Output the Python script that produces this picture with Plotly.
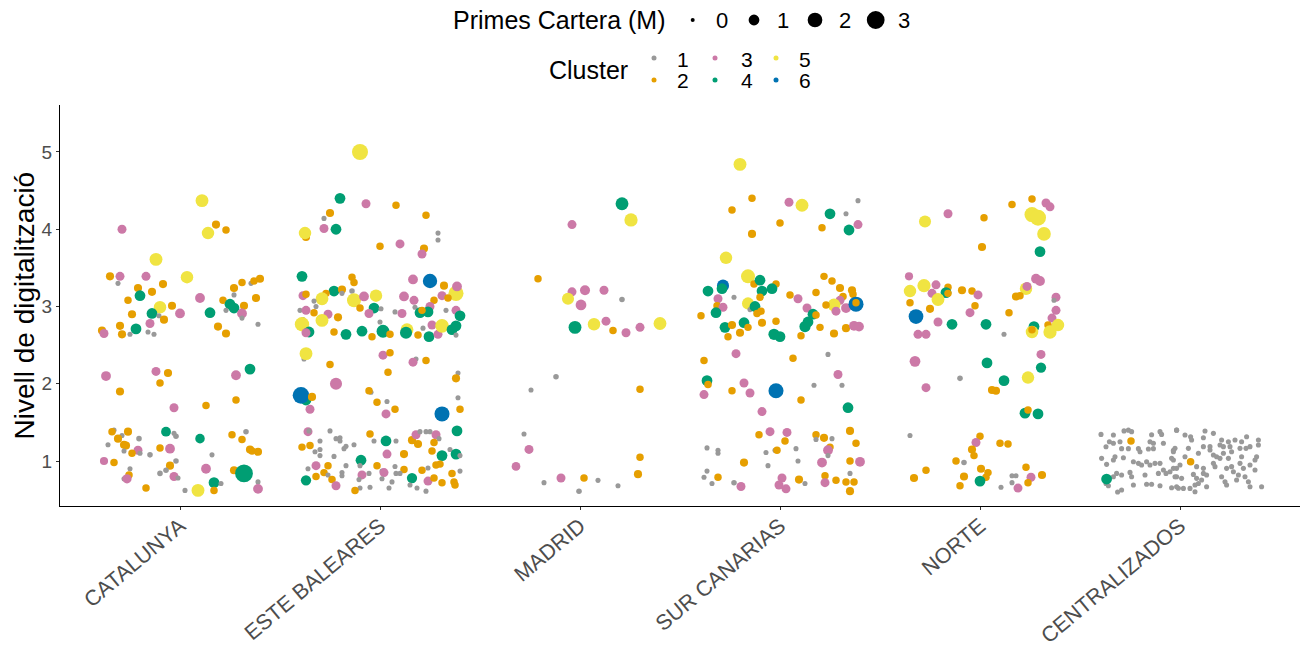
import plotly.graph_objects as go

# ---------------------------------------------------------------------------
# Data: one list per territory, each row is
# (horizontal jitter, digitalisation level, premiums in M, cluster)
# ---------------------------------------------------------------------------
REGIONS = ["CATALUNYA", "ESTE BALEARES", "MADRID", "SUR CANARIAS", "NORTE", "CENTRALIZADOS"]
CLUSTERS = [1, 2, 3, 4, 5, 6]
CLUSTER_COLORS = ["#999999", "#E69F00", "#CC79A7", "#009E73", "#F0E442", "#0072B2"]
SIZE_BREAKS = [0, 1, 2, 3]
Y_TICKS = [1, 2, 3, 4, 5]

CATALUNYA = [
    (0.11, 4.37, 1.5, 5), (-0.29, 4.00, 0.65, 3), (0.18, 4.06, 0.5, 2), (0.23, 3.99, 0.4, 2),
    (0.14, 3.95, 1.4, 5), (-0.12, 3.61, 1.5, 5), (-0.35, 3.39, 0.5, 2), (-0.30, 3.39, 0.65, 3),
    (-0.31, 3.30, 0.1, 1), (-0.17, 3.39, 0.65, 3), (0.035, 3.38, 1.4, 5), (-0.21, 3.24, 0.5, 2),
    (-0.085, 3.29, 0.5, 2), (-0.20, 3.14, 1.0, 4), (-0.14, 3.19, 0.5, 2), (-0.26, 3.08, 0.4, 2),
    (0.10, 3.11, 0.8, 3), (0.27, 3.24, 0.5, 2), (0.31, 3.31, 0.4, 2), (0.355, 3.30, 0.1, 1),
    (0.37, 3.33, 0.4, 2), (0.40, 3.36, 0.5, 2), (0.27, 3.15, 0.1, 1), (0.38, 3.11, 0.5, 2),
    (0.215, 3.08, 0.4, 2), (0.25, 3.03, 1.0, 4), (0.27, 2.98, 1.0, 4), (0.32, 3.01, 0.5, 2),
    (0.23, 2.95, 0.1, 1), (-0.10, 2.99, 1.4, 5), (-0.04, 3.01, 0.5, 2), (-0.24, 2.90, 0.5, 2),
    (-0.14, 2.91, 1.0, 4), (-0.105, 2.88, 0.1, 1), (0.0, 2.91, 0.8, 3), (0.15, 2.92, 1.0, 4),
    (0.31, 2.91, 0.8, 3), (0.31, 2.85, 0.1, 1), (-0.08, 2.83, 0.5, 2),
    (0.39, 2.77, 0.1, 1), (-0.30, 2.75, 0.5, 2), (-0.22, 2.71, 1.0, 4), (-0.15, 2.78, 0.65, 3),
    (-0.39, 2.69, 0.5, 2), (-0.38, 2.65, 0.65, 3), (-0.29, 2.64, 0.5, 2), (-0.25, 2.64, 0.1, 1),
    (-0.16, 2.67, 0.1, 1), (-0.13, 2.64, 0.1, 1), (0.19, 2.74, 0.5, 2), (0.23, 2.65, 0.5, 2),
    (0.35, 2.19, 1.0, 4), (0.28, 2.11, 0.8, 3), (-0.37, 2.10, 0.8, 3), (-0.12, 2.16, 0.65, 3),
    (-0.06, 2.14, 0.5, 2), (-0.10, 2.01, 0.4, 2), (-0.30, 1.90, 0.5, 2), (0.28, 1.79, 0.4, 2),
    (-0.03, 1.69, 0.65, 3), (0.13, 1.72, 0.4, 2),
    (-0.33, 1.40, 0.1, 1), (-0.34, 1.38, 0.4, 2), (-0.26, 1.38, 0.5, 2), (-0.29, 1.33, 0.1, 1),
    (-0.31, 1.29, 0.5, 2), (-0.205, 1.29, 0.15, 1), (-0.07, 1.38, 0.8, 4), (-0.03, 1.36, 0.1, 1),
    (-0.02, 1.32, 0.15, 1), (0.10, 1.29, 0.75, 4), (0.26, 1.34, 0.4, 2), (0.33, 1.38, 0.15, 1),
    (0.31, 1.28, 0.4, 2), (0.35, 1.15, 0.5, 2), (0.36, 1.13, 0.4, 2), (0.39, 1.12, 0.5, 2),
    (-0.36, 1.21, 0.1, 1), (-0.28, 1.21, 0.5, 2), (-0.27, 1.20, 0.5, 2), (-0.28, 1.13, 0.1, 1),
    (-0.21, 1.14, 0.65, 3), (-0.24, 1.10, 0.4, 2), (-0.20, 1.10, 0.1, 1), (-0.15, 1.08, 0.15, 1),
    (-0.10, 1.17, 0.4, 2), (-0.05, 1.16, 0.8, 3), (0.16, 1.08, 0.1, 1), (-0.38, 1.00, 0.5, 3),
    (-0.33, 0.98, 0.4, 2), (-0.02, 1.00, 0.15, 1), (-0.05, 0.94, 0.5, 2), (0.13, 0.90, 0.8, 3),
    (-0.25, 0.90, 0.1, 1), (-0.255, 0.82, 0.4, 2), (-0.28, 0.77, 0.1, 1), (-0.265, 0.77, 0.7, 3),
    (-0.10, 0.84, 0.15, 1), (-0.07, 0.88, 0.15, 1), (-0.03, 0.80, 0.65, 3), (-0.01, 0.78, 0.1, 1),
    (0.27, 0.88, 0.5, 2), (0.32, 0.84, 3.0, 4), (0.17, 0.72, 1.0, 4), (0.205, 0.71, 0.1, 1),
    (0.17, 0.62, 0.4, 2), (0.09, 0.62, 1.5, 5), (0.025, 0.62, 0.1, 1), (-0.17, 0.65, 0.4, 2),
    (0.39, 0.73, 0.1, 1), (0.39, 0.64, 0.8, 3),
]

ESTE_BALEARES = [
    (-0.10, 5.00, 2.4, 5), (-0.20, 4.40, 1.0, 4), (-0.07, 4.33, 0.65, 3), (0.08, 4.31, 0.4, 2),
    (0.23, 4.18, 0.4, 2), (-0.25, 4.21, 0.5, 2), (-0.28, 4.14, 0.1, 1), (-0.28, 4.01, 0.65, 3),
    (-0.22, 4.00, 1.0, 4), (-0.37, 3.90, 0.5, 2), (-0.375, 3.95, 1.4, 5), (0.29, 3.95, 0.1, 1),
    (0.29, 3.86, 0.1, 1), (0.00, 3.78, 0.4, 2), (0.10, 3.81, 0.65, 3), (0.22, 3.75, 0.5, 2),
    (0.21, 3.68, 0.65, 3), (-0.39, 3.39, 1.0, 4), (-0.14, 3.38, 0.4, 2), (-0.13, 3.31, 0.4, 2),
    (0.165, 3.35, 0.8, 3), (0.25, 3.33, 1.9, 6), (0.32, 3.27, 0.5, 2), (0.38, 3.17, 2.1, 5),
    (0.385, 3.26, 0.8, 3), (-0.23, 3.20, 1.0, 4), (-0.19, 3.22, 0.5, 2), (-0.14, 3.20, 0.15, 1),
    (-0.27, 3.17, 0.4, 2), (-0.29, 3.10, 1.5, 5), (-0.385, 3.14, 0.65, 3), (-0.37, 3.16, 0.4, 2),
    (-0.33, 3.07, 0.1, 1), (-0.32, 3.00, 0.1, 1), (-0.19, 3.17, 0.1, 1), (-0.13, 3.08, 1.8, 5),
    (-0.08, 3.13, 0.8, 3), (-0.02, 3.14, 1.4, 5), (0.12, 3.13, 0.8, 3), (0.17, 3.08, 0.65, 3),
    (0.27, 3.08, 0.4, 2), (0.31, 3.14, 0.65, 3), (0.34, 3.11, 0.4, 2), (0.175, 2.99, 0.1, 1),
    (0.25, 3.00, 0.65, 3), (-0.03, 2.98, 1.0, 4), (0.005, 2.97, 0.1, 1), (-0.10, 2.98, 0.4, 2),
    (-0.055, 2.91, 0.65, 3), (0.075, 2.93, 0.1, 1), (0.11, 2.91, 0.65, 3), (0.20, 2.92, 1.0, 4),
    (0.24, 2.93, 1.0, 4), (0.21, 2.95, 0.4, 2), (0.33, 2.95, 0.1, 1), (0.38, 2.95, 0.65, 3),
    (0.40, 2.88, 1.0, 4), (-0.40, 2.95, 0.1, 1), (-0.37, 2.95, 0.65, 3), (-0.33, 2.92, 0.4, 2),
    (-0.26, 2.90, 0.65, 3), (-0.21, 2.86, 0.5, 2), (-0.29, 2.82, 1.5, 5), (-0.385, 2.83, 0.1, 1),
    (-0.39, 2.77, 1.9, 5), (-0.355, 2.67, 1.0, 4), (-0.37, 2.66, 0.65, 3), (-0.23, 2.67, 0.4, 2),
    (-0.17, 2.64, 1.0, 4), (-0.09, 2.68, 1.0, 4), (0.0, 2.80, 0.1, 1), (0.015, 2.68, 1.5, 4),
    (0.05, 2.64, 0.4, 2), (-0.04, 2.61, 0.4, 2), (0.135, 2.70, 1.5, 5), (0.13, 2.66, 1.3, 4),
    (0.19, 2.63, 0.4, 2), (0.215, 2.72, 0.1, 1), (0.26, 2.76, 0.65, 3), (0.245, 2.61, 1.0, 4),
    (0.29, 2.64, 0.65, 3), (0.31, 2.75, 1.7, 5), (0.36, 2.70, 1.0, 4), (0.38, 2.75, 1.0, 4),
    (0.38, 2.63, 0.1, 1), (-0.38, 2.32, 0.1, 1), (-0.37, 2.39, 1.5, 5), (-0.25, 2.25, 0.4, 2),
    (0.015, 2.37, 0.65, 3), (0.05, 2.40, 0.4, 2), (0.18, 2.32, 0.1, 1), (0.165, 2.28, 0.65, 3),
    (0.23, 2.30, 0.4, 2), (0.04, 2.15, 0.4, 2), (-0.22, 2.00, 1.3, 3), (0.39, 2.14, 0.1, 1),
    (0.38, 2.07, 0.5, 2), (-0.37, 1.79, 1.0, 4), (-0.395, 1.85, 2.6, 6), (-0.34, 1.83, 0.5, 2),
    (-0.35, 1.67, 0.65, 3), (-0.045, 1.89, 0.1, 1), (-0.055, 1.91, 0.4, 2), (-0.015, 1.76, 0.4, 2),
    (0.035, 1.77, 0.1, 1), (0.075, 1.67, 0.4, 2), (0.03, 1.61, 0.65, 3), (0.39, 1.82, 0.1, 1),
    (0.40, 1.67, 0.4, 2), (0.31, 1.61, 2.1, 6),
    (-0.36, 1.38, 0.65, 3), (-0.355, 1.39, 0.1, 1), (-0.25, 1.39, 0.1, 1), (-0.05, 1.35, 0.4, 2),
    (0.03, 1.26, 1.0, 4), (0.08, 1.26, 0.1, 1), (0.16, 1.27, 0.5, 2), (0.19, 1.22, 0.5, 2),
    (0.18, 1.34, 0.65, 3), (0.20, 1.38, 0.1, 1), (0.23, 1.38, 0.1, 1), (0.25, 1.38, 0.1, 1),
    (0.28, 1.34, 0.65, 3), (0.295, 1.29, 0.1, 1), (0.27, 1.24, 0.4, 2), (0.385, 1.39, 1.0, 4),
    (-0.30, 1.26, 0.1, 1), (-0.22, 1.29, 0.1, 1), (-0.20, 1.30, 0.1, 1), (-0.20, 1.26, 0.1, 1),
    (-0.13, 1.21, 0.1, 1), (-0.17, 1.19, 0.1, 1), (-0.18, 1.16, 0.1, 1), (-0.39, 1.18, 0.4, 2),
    (-0.35, 1.20, 0.4, 2), (-0.30, 1.15, 0.1, 1), (-0.325, 1.12, 0.1, 1), (-0.30, 1.07, 0.1, 1),
    (-0.23, 1.06, 0.1, 1), (-0.03, 1.26, 0.1, 1), (0.035, 1.09, 0.65, 3), (0.12, 1.09, 0.5, 2),
    (0.26, 1.13, 0.4, 2), (0.35, 1.15, 0.1, 1), (0.31, 1.07, 1.0, 4), (0.38, 1.09, 1.0, 4),
    (0.40, 1.07, 0.1, 1), (-0.095, 1.01, 1.0, 4), (-0.10, 0.94, 0.1, 1), (-0.32, 0.94, 0.65, 3),
    (-0.36, 0.90, 0.1, 1), (-0.26, 0.94, 0.4, 2), (-0.17, 0.94, 0.1, 1), (-0.015, 0.94, 0.4, 2),
    (0.075, 0.93, 0.1, 1), (0.21, 0.88, 0.4, 2), (0.24, 0.91, 0.1, 1), (0.28, 0.95, 0.4, 2),
    (0.30, 0.96, 0.4, 2), (-0.28, 0.85, 0.4, 2), (-0.26, 0.82, 0.1, 1), (-0.32, 0.80, 0.4, 2),
    (0.01, 0.87, 0.1, 1), (0.02, 0.85, 0.65, 3), (-0.055, 0.84, 0.1, 1), (-0.19, 0.85, 0.1, 1),
    (0.12, 0.89, 0.4, 2), (0.08, 0.84, 0.1, 1), (0.10, 0.84, 0.1, 1), (0.36, 0.84, 0.4, 2),
    (0.40, 0.87, 0.1, 1), (-0.09, 0.82, 0.65, 3), (-0.19, 0.81, 0.1, 1), (-0.37, 0.75, 0.9, 4),
    (-0.24, 0.76, 0.4, 2), (-0.105, 0.76, 0.1, 1), (0.01, 0.77, 0.1, 1), (0.16, 0.78, 0.9, 4),
    (0.24, 0.74, 0.65, 3), (0.27, 0.78, 0.4, 2), (0.31, 0.72, 0.4, 2), (0.37, 0.73, 0.4, 2),
    (0.375, 0.69, 0.4, 2), (-0.22, 0.68, 0.65, 3), (-0.10, 0.65, 0.1, 1), (-0.05, 0.66, 0.1, 1),
    (0.06, 0.73, 0.1, 1), (0.045, 0.65, 0.1, 1), (0.15, 0.69, 0.1, 1), (0.185, 0.65, 0.1, 1),
    (0.23, 0.61, 0.1, 1), (-0.125, 0.62, 0.4, 2),
]

MADRID = [
    (0.21, 4.33, 1.5, 4), (0.255, 4.12, 1.6, 5), (-0.04, 4.06, 0.65, 3), (-0.21, 3.36, 0.4, 2),
    (-0.04, 3.19, 0.65, 3), (0.025, 3.21, 0.85, 3), (0.12, 3.21, 0.65, 3), (-0.06, 3.10, 1.3, 5),
    (0.21, 3.09, 0.15, 1), (0.005, 3.02, 1.0, 3), (-0.025, 2.73, 1.5, 4), (0.07, 2.77, 1.4, 5),
    (0.13, 2.81, 0.65, 3), (0.165, 2.69, 0.4, 2), (0.23, 2.66, 0.65, 3), (0.30, 2.73, 0.65, 3),
    (0.40, 2.78, 1.5, 5), (-0.12, 2.09, 0.15, 1), (-0.245, 1.92, 0.1, 1), (0.30, 1.93, 0.4, 2),
    (-0.28, 1.35, 0.1, 1), (-0.255, 1.15, 0.65, 3), (-0.32, 0.93, 0.6, 3), (0.30, 1.05, 0.4, 2),
    (0.29, 0.83, 0.5, 2), (-0.18, 0.72, 0.1, 1), (-0.095, 0.78, 0.65, 3), (0.02, 0.78, 0.4, 2),
    (0.09, 0.75, 0.1, 1), (-0.005, 0.61, 0.15, 1), (0.19, 0.68, 0.1, 1),
]

SUR_CANARIAS = [
    (-0.20, 4.84, 1.5, 5), (-0.14, 4.40, 0.4, 2), (-0.24, 4.25, 0.4, 2), (0.045, 4.35, 0.65, 3),
    (0.11, 4.31, 1.5, 5), (0.39, 4.37, 0.1, 1), (0.25, 4.20, 1.0, 4), (0.33, 4.20, 0.1, 1),
    (0.39, 4.06, 0.65, 3), (0.345, 3.99, 1.0, 4), (0.0, 4.08, 0.4, 2), (0.21, 4.02, 0.4, 2),
    (-0.14, 3.94, 0.5, 2), (-0.27, 3.63, 1.4, 5), (-0.16, 3.39, 1.8, 5), (-0.13, 3.29, 0.4, 2),
    (-0.10, 3.34, 1.0, 4), (-0.02, 3.29, 0.4, 2), (-0.09, 3.20, 1.0, 4), (-0.04, 3.23, 1.0, 4),
    (-0.10, 3.12, 0.4, 2), (-0.285, 3.27, 1.3, 6), (-0.29, 3.23, 1.0, 4), (-0.36, 3.20, 1.0, 4),
    (-0.23, 3.12, 0.1, 1), (-0.31, 3.10, 0.65, 3), (-0.315, 3.01, 0.4, 2), (-0.285, 2.99, 0.65, 3),
    (-0.32, 2.92, 1.0, 4), (-0.395, 2.88, 0.4, 2), (-0.16, 3.04, 1.3, 5), (-0.15, 2.96, 0.1, 1),
    (-0.125, 3.00, 1.0, 4), (-0.115, 2.91, 0.4, 2), (-0.095, 2.94, 0.4, 2), (0.22, 3.39, 0.4, 2),
    (0.26, 3.33, 0.4, 2), (0.30, 3.24, 0.5, 2), (0.36, 3.21, 0.5, 2), (0.365, 3.16, 0.4, 2),
    (0.315, 3.13, 0.4, 2), (0.30, 3.08, 0.65, 3), (0.05, 3.15, 0.4, 2), (0.18, 3.18, 0.4, 2),
    (0.09, 3.10, 0.65, 3), (0.27, 3.02, 1.5, 5), (0.23, 3.02, 0.4, 2), (0.33, 2.98, 0.8, 3),
    (0.135, 2.98, 0.65, 3), (0.38, 3.03, 2.1, 6), (0.38, 3.05, 0.4, 2), (0.28, 2.94, 0.65, 3),
    (0.165, 2.90, 1.0, 4), (0.18, 2.89, 0.4, 2), (-0.275, 2.73, 1.0, 4), (-0.24, 2.76, 0.5, 2),
    (-0.26, 2.61, 0.4, 2), (-0.20, 2.66, 0.5, 2), (-0.18, 2.79, 1.0, 4), (-0.16, 2.73, 0.4, 2),
    (-0.09, 2.79, 0.5, 2), (-0.02, 2.81, 0.4, 2), (-0.03, 2.64, 1.1, 4), (0.0, 2.61, 1.0, 4),
    (0.125, 2.74, 1.1, 4), (0.14, 2.80, 1.0, 4), (0.105, 2.62, 0.4, 2), (0.20, 2.73, 0.4, 2),
    (0.27, 2.65, 0.5, 2), (0.33, 2.72, 0.5, 2), (0.37, 2.75, 0.8, 3), (0.395, 2.74, 0.8, 3),
    (-0.22, 2.39, 0.65, 3), (-0.38, 2.30, 0.4, 2), (0.065, 2.33, 0.4, 2), (0.24, 2.38, 0.1, 1),
    (0.29, 2.12, 0.65, 3), (-0.365, 2.04, 1.0, 4), (-0.36, 1.99, 0.4, 2), (-0.38, 1.86, 0.65, 3),
    (-0.18, 2.01, 0.65, 3), (-0.15, 1.88, 0.65, 3), (-0.24, 1.91, 0.4, 2), (-0.02, 1.91, 2.1, 6),
    (0.17, 1.98, 0.1, 1), (0.31, 1.98, 0.1, 1), (0.105, 1.79, 0.4, 2), (0.34, 1.69, 1.0, 4),
    (-0.09, 1.64, 0.65, 3),
    (-0.105, 1.34, 0.4, 2), (-0.05, 1.38, 0.65, 3), (0.035, 1.37, 0.65, 3), (0.025, 1.26, 0.4, 2),
    (0.18, 1.34, 0.4, 2), (0.18, 1.28, 0.1, 1), (0.22, 1.30, 0.5, 2), (0.26, 1.29, 0.1, 1),
    (0.35, 1.39, 0.5, 2), (0.38, 1.23, 0.4, 2), (0.25, 1.18, 0.4, 2), (0.24, 1.14, 0.8, 3),
    (0.24, 1.07, 0.1, 1), (-0.365, 1.17, 0.1, 1), (-0.31, 1.14, 0.1, 1), (-0.31, 1.10, 0.1, 1),
    (-0.07, 1.11, 0.1, 1), (-0.025, 1.14, 0.1, 1), (-0.015, 1.14, 0.4, 2), (0.08, 1.16, 0.1, 1),
    (-0.18, 0.98, 0.5, 2), (-0.06, 0.94, 0.1, 1), (0.09, 1.00, 0.1, 1), (0.21, 0.98, 0.8, 3),
    (0.35, 1.00, 0.4, 2), (0.40, 0.99, 0.8, 3), (-0.365, 0.87, 0.1, 1), (-0.38, 0.79, 0.1, 1),
    (-0.31, 0.79, 0.4, 2), (-0.34, 0.71, 0.1, 1), (-0.23, 0.72, 0.15, 1), (-0.195, 0.67, 0.65, 3),
    (0.01, 0.78, 0.65, 3), (-0.005, 0.69, 0.65, 3), (0.03, 0.64, 0.65, 3), (0.095, 0.76, 0.5, 2),
    (0.125, 0.71, 0.1, 1), (0.225, 0.81, 0.4, 2), (0.225, 0.72, 0.65, 3), (0.28, 0.75, 0.4, 2),
    (0.35, 0.84, 0.1, 1), (0.33, 0.73, 0.4, 2), (0.37, 0.73, 0.4, 2), (0.35, 0.61, 0.5, 2),
]

NORTE = [
    (0.26, 4.39, 0.4, 2), (0.33, 4.34, 0.65, 3), (0.35, 4.29, 0.65, 3), (0.26, 4.19, 2.1, 5),
    (0.29, 4.15, 2.4, 5), (0.16, 4.32, 0.4, 2), (0.02, 4.15, 0.4, 2), (-0.16, 4.20, 0.65, 3),
    (-0.275, 4.10, 1.3, 5), (0.32, 3.94, 1.7, 5), (0.01, 3.77, 0.5, 2), (0.30, 3.71, 1.0, 4),
    (-0.355, 3.39, 0.5, 3), (-0.35, 3.20, 1.4, 5), (-0.28, 3.27, 1.6, 5), (-0.22, 3.28, 0.65, 3),
    (-0.16, 3.25, 0.4, 2), (-0.17, 3.18, 1.0, 4), (-0.16, 3.17, 0.4, 2), (-0.24, 3.17, 0.65, 3),
    (-0.21, 3.09, 1.5, 5), (-0.35, 3.05, 0.4, 2), (-0.09, 3.21, 0.5, 2), (-0.04, 3.20, 0.4, 2),
    (-0.01, 3.15, 0.65, 3), (-0.025, 3.01, 0.4, 2), (-0.25, 2.97, 0.5, 2), (-0.32, 2.87, 2.0, 6),
    (-0.21, 2.80, 0.65, 3), (-0.14, 2.77, 1.0, 4), (-0.05, 2.92, 0.65, 3), (0.145, 2.92, 0.4, 2),
    (0.03, 2.77, 1.0, 4), (0.28, 3.36, 0.8, 3), (0.30, 3.33, 0.8, 3), (0.23, 3.23, 1.4, 5),
    (0.235, 3.26, 0.65, 3), (0.18, 3.13, 0.5, 2), (0.20, 3.14, 0.4, 2), (0.38, 3.12, 0.65, 3),
    (0.37, 3.08, 0.1, 1), (0.38, 2.95, 0.65, 3), (0.36, 2.85, 0.65, 3), (0.27, 2.74, 1.0, 4),
    (0.39, 2.76, 1.4, 5), (-0.31, 2.64, 0.65, 3), (-0.27, 2.64, 0.65, 3), (0.12, 2.64, 0.1, 1),
    (0.26, 2.67, 1.4, 5), (0.26, 2.70, 0.4, 2), (0.34, 2.76, 0.4, 2), (0.35, 2.67, 1.6, 5),
    (0.305, 2.38, 0.65, 3), (0.305, 2.21, 0.9, 4), (-0.325, 2.29, 1.0, 3), (0.035, 2.27, 1.0, 4),
    (-0.10, 2.07, 0.15, 1), (0.24, 2.08, 1.4, 5), (0.12, 2.04, 1.0, 4), (0.06, 1.92, 0.5, 2),
    (0.08, 1.91, 0.5, 2), (-0.27, 1.95, 0.65, 3), (0.225, 1.62, 1.0, 4), (0.24, 1.66, 0.4, 2),
    (0.29, 1.61, 1.0, 4),
    (-0.35, 1.33, 0.1, 1), (0.0, 1.32, 0.4, 2), (-0.02, 1.24, 0.65, 3), (-0.04, 1.15, 0.5, 2),
    (-0.03, 1.07, 0.4, 2), (0.10, 1.23, 0.4, 2), (0.14, 1.22, 0.4, 2), (-0.12, 1.00, 0.4, 2),
    (-0.08, 0.98, 0.15, 1), (0.005, 0.90, 0.5, 2), (0.04, 0.85, 0.4, 2), (0.03, 0.79, 0.4, 2),
    (0.0, 0.74, 1.0, 4), (-0.08, 0.80, 0.5, 2), (-0.10, 0.68, 0.4, 2), (-0.27, 0.88, 0.4, 2),
    (-0.33, 0.78, 0.5, 2), (0.23, 0.92, 0.4, 2), (0.16, 0.81, 0.1, 1), (0.18, 0.81, 0.1, 1),
    (0.255, 0.79, 0.65, 3), (0.31, 0.82, 0.5, 2), (0.24, 0.72, 0.4, 2), (0.16, 0.72, 0.1, 1),
    (0.105, 0.66, 0.1, 1), (0.19, 0.65, 0.65, 3),
]

CENTRALIZADOS = [
    (-0.395, 1.345, 0.1, 1), (-0.333, 1.337, 0.1, 1), (-0.28, 1.39, 0.1, 1), (-0.258, 1.40, 0.1, 1),
    (-0.242, 1.38, 0.1, 1), (-0.142, 1.34, 0.1, 1), (-0.10, 1.38, 0.1, 1), (-0.092, 1.345, 0.1, 1),
    (-0.017, 1.40, 0.1, 1), (-0.353, 1.25, 0.1, 1), (-0.333, 1.23, 0.1, 1), (-0.37, 1.185, 0.1, 1),
    (-0.30, 1.25, 0.1, 1), (-0.292, 1.16, 0.1, 1), (-0.258, 1.16, 0.1, 1), (-0.208, 1.16, 0.1, 1),
    (-0.20, 1.12, 0.1, 1), (-0.15, 1.25, 0.1, 1), (-0.133, 1.23, 0.1, 1), (-0.083, 1.23, 0.1, 1),
    (-0.133, 1.16, 0.1, 1), (-0.158, 1.155, 0.1, 1), (-0.033, 1.14, 0.1, 1), (-0.392, 1.035, 0.1, 1),
    (-0.367, 0.957, 0.1, 1), (-0.333, 1.013, 0.1, 1), (-0.325, 1.056, 0.1, 1), (-0.283, 1.043, 0.1, 1),
    (-0.233, 0.99, 0.1, 1), (-0.208, 0.97, 0.1, 1), (-0.192, 0.948, 0.1, 1), (-0.167, 0.99, 0.1, 1),
    (-0.15, 0.948, 0.1, 1), (-0.125, 0.97, 0.1, 1), (-0.10, 0.97, 0.1, 1), (-0.042, 1.035, 0.1, 1),
    (-0.083, 0.883, 0.1, 1), (-0.05, 0.862, 0.1, 1), (-0.017, 0.905, 0.1, 1), (-0.07, 0.84, 0.1, 1),
    (-0.317, 0.84, 0.1, 1), (-0.292, 0.82, 0.1, 1), (-0.25, 0.853, 0.1, 1), (-0.242, 0.797, 0.1, 1),
    (-0.175, 0.82, 0.1, 1), (-0.108, 0.84, 0.1, 1), (-0.37, 0.71, 0.1, 1), (-0.358, 0.68, 0.1, 1),
    (-0.333, 0.797, 0.1, 1), (-0.233, 0.69, 0.1, 1), (-0.167, 0.70, 0.1, 1), (-0.142, 0.70, 0.1, 1),
    (-0.10, 0.68, 0.1, 1), (-0.042, 0.655, 0.1, 1), (-0.017, 0.797, 0.1, 1), (-0.312, 0.60, 0.1, 1),
    (-0.292, 0.625, 0.1, 1), (-0.008, 0.647, 0.1, 1),
    (-0.017, 1.40, 0.1, 1), (0.025, 1.337, 0.1, 1), (0.053, 1.315, 0.1, 1), (0.058, 1.272, 0.1, 1),
    (0.125, 1.388, 0.1, 1), (0.117, 1.302, 0.1, 1), (0.167, 1.358, 0.1, 1), (0.208, 1.272, 0.1, 1),
    (0.242, 1.25, 0.1, 1), (0.275, 1.272, 0.1, 1), (0.333, 1.315, 0.1, 1), (0.392, 1.272, 0.1, 1),
    (0.392, 1.207, 0.1, 1), (0.308, 1.25, 0.1, 1), (0.30, 1.164, 0.1, 1), (0.33, 1.164, 0.1, 1),
    (0.35, 1.186, 0.1, 1), (-0.025, 1.164, 0.1, 1), (-0.033, 1.12, 0.1, 1), (0.042, 1.164, 0.1, 1),
    (0.117, 1.186, 0.1, 1), (0.15, 1.186, 0.1, 1), (0.15, 1.142, 0.1, 1), (0.20, 1.207, 0.1, 1),
    (0.217, 1.186, 0.1, 1), (0.25, 1.186, 0.1, 1), (0.258, 1.12, 0.1, 1), (0.025, 1.056, 0.1, 1),
    (0.092, 1.10, 0.1, 1), (0.167, 1.078, 0.1, 1), (0.183, 1.056, 0.1, 1), (0.20, 1.035, 0.1, 1),
    (0.217, 1.10, 0.1, 1), (0.242, 1.035, 0.1, 1), (0.308, 1.056, 0.1, 1), (0.375, 1.013, 0.1, 1),
    (0.383, 1.056, 0.1, 1), (-0.033, 1.013, 0.1, 1), (0.0, 0.948, 0.1, 1), (-0.033, 0.905, 0.1, 1),
    (0.083, 0.927, 0.1, 1), (0.117, 0.905, 0.1, 1), (0.167, 0.97, 0.1, 1), (0.175, 0.927, 0.1, 1),
    (0.233, 0.905, 0.1, 1), (0.258, 0.927, 0.1, 1), (0.30, 0.97, 0.1, 1), (0.317, 0.905, 0.1, 1),
    (0.35, 0.948, 0.1, 1), (0.267, 0.862, 0.1, 1), (0.375, 0.883, 0.1, 1), (0.292, 0.82, 0.1, 1),
    (0.325, 0.797, 0.1, 1), (-0.025, 0.797, 0.1, 1), (0.008, 0.776, 0.1, 1), (0.067, 0.827, 0.1, 1),
    (0.083, 0.776, 0.1, 1), (0.117, 0.84, 0.1, 1), (0.133, 0.82, 0.1, 1), (0.208, 0.797, 0.1, 1),
    (0.092, 0.71, 0.1, 1), (0.075, 0.69, 0.1, 1), (0.05, 0.646, 0.1, 1), (0.017, 0.646, 0.1, 1),
    (-0.017, 0.668, 0.1, 1), (0.108, 0.754, 0.1, 1), (0.225, 0.732, 0.1, 1), (0.233, 0.69, 0.1, 1),
    (0.283, 0.754, 0.1, 1), (0.342, 0.732, 0.1, 1), (0.35, 0.668, 0.1, 1), (0.408, 0.668, 0.1, 1),
    (0.075, 0.603, 0.1, 1), (0.133, 0.668, 0.1, 1),
    (-0.245, 1.26, 0.4, 2), (0.053, 0.99, 0.4, 2), (-0.367, 0.767, 1.0, 4),
]

REGION_DATA = [CATALUNYA, ESTE_BALEARES, MADRID, SUR_CANARIAS, NORTE, CENTRALIZADOS]

FONT = "Liberation Sans, Arial, Helvetica, sans-serif"
TICK_GREY = "#4D4D4D"


def marker_diameter(premium):
    """Area-proportional point size (px) for the premium volume."""
    return (16 + 100 * premium) ** 0.5


color_of = dict(zip(CLUSTERS, CLUSTER_COLORS))

xs, ys, sizes, colors = [], [], [], []
for pos, rows in enumerate(REGION_DATA, start=1):
    for jitter, level, premium, cluster in rows:
        xs.append(pos + jitter)
        ys.append(level)
        sizes.append(marker_diameter(premium))
        colors.append(color_of[cluster])

fig = go.Figure(
    go.Scatter(
        x=xs, y=ys, mode="markers",
        marker=dict(size=sizes, color=colors, line=dict(width=0), opacity=1),
        hoverinfo="skip", showlegend=False,
    )
)

# Plot area in pixels
W, H = 1304, 653
L, R, T, B = 60, 4, 105, 147
PW, PH = W - L - R, H - T - B


def px_x(p):
    return (p - L) / PW


def px_y(p):
    return (H - B - p) / PH


shapes, annotations = [], []


def dot(cx, cy, d, color):
    shapes.append(dict(
        type="circle", xref="paper", yref="paper",
        xsizemode="pixel", ysizemode="pixel",
        xanchor=px_x(cx), yanchor=px_y(cy),
        x0=-d / 2, x1=d / 2, y0=-d / 2, y1=d / 2,
        fillcolor=color, line=dict(width=0),
    ))


def label(text, cx, cy, size, anchor="center", color="black"):
    annotations.append(dict(
        text=text, xref="paper", yref="paper", x=px_x(cx), y=px_y(cy),
        xanchor=anchor, yanchor="middle", showarrow=False,
        font=dict(family=FONT, size=size, color=color),
    ))


# Size legend
label("Primes Cartera (M)", 668, 20, 25, anchor="right")
for brk, kx, tx in zip(SIZE_BREAKS, [692.7, 754, 815, 875.7], [721.7, 783.3, 845, 904]):
    dot(kx, 20, marker_diameter(brk), "black")
    label(str(brk), tx, 20, 22)

# Cluster legend (column-major, two rows)
label("Cluster", 630, 70, 25, anchor="right")
key_cols = [654, 715, 776]
text_cols = [683.3, 746.7, 805]
rows_y = [58, 80]
for i, (cl, col) in enumerate(zip(CLUSTERS, CLUSTER_COLORS)):
    c, r = divmod(i, 2)
    dot(key_cols[c], rows_y[r], 5, col)
    label(str(cl), text_cols[c], rows_y[r] + 1, 21)

# y-axis title
annotations.append(dict(
    text="Nivell de digitalització", xref="paper", yref="paper",
    x=px_x(24), y=0.5, xanchor="center", yanchor="middle", textangle=-90,
    showarrow=False, font=dict(family=FONT, size=28, color="black"),
))

fig.update_layout(
    width=W, height=H, autosize=False,
    margin=dict(l=L, r=R, t=T, b=B, pad=0, autoexpand=False),
    paper_bgcolor="white", plot_bgcolor="white",
    font=dict(family=FONT),
    shapes=shapes, annotations=annotations,
    xaxis=dict(
        range=[0.4, 6.6], tickmode="array", tickvals=list(range(1, len(REGIONS) + 1)),
        ticktext=REGIONS, tickangle=-40, showgrid=False, zeroline=False,
        showline=True, linecolor="black", linewidth=1, automargin=False,
        ticks="outside", ticklen=3, tickcolor="#333333", tickwidth=1,
        ticklabelstandoff=-5,
        tickfont=dict(family=FONT, size=21.5, color=TICK_GREY),
    ),
    yaxis=dict(
        range=[0.418, 5.608], tickmode="array", tickvals=Y_TICKS,
        showgrid=False, zeroline=False, showline=True, linecolor="black", linewidth=1,
        automargin=False,
        ticks="outside", ticklen=3, tickcolor="#333333", tickwidth=1,
        tickfont=dict(family=FONT, size=19, color=TICK_GREY),
    ),
)

fig.write_html("out.html")
